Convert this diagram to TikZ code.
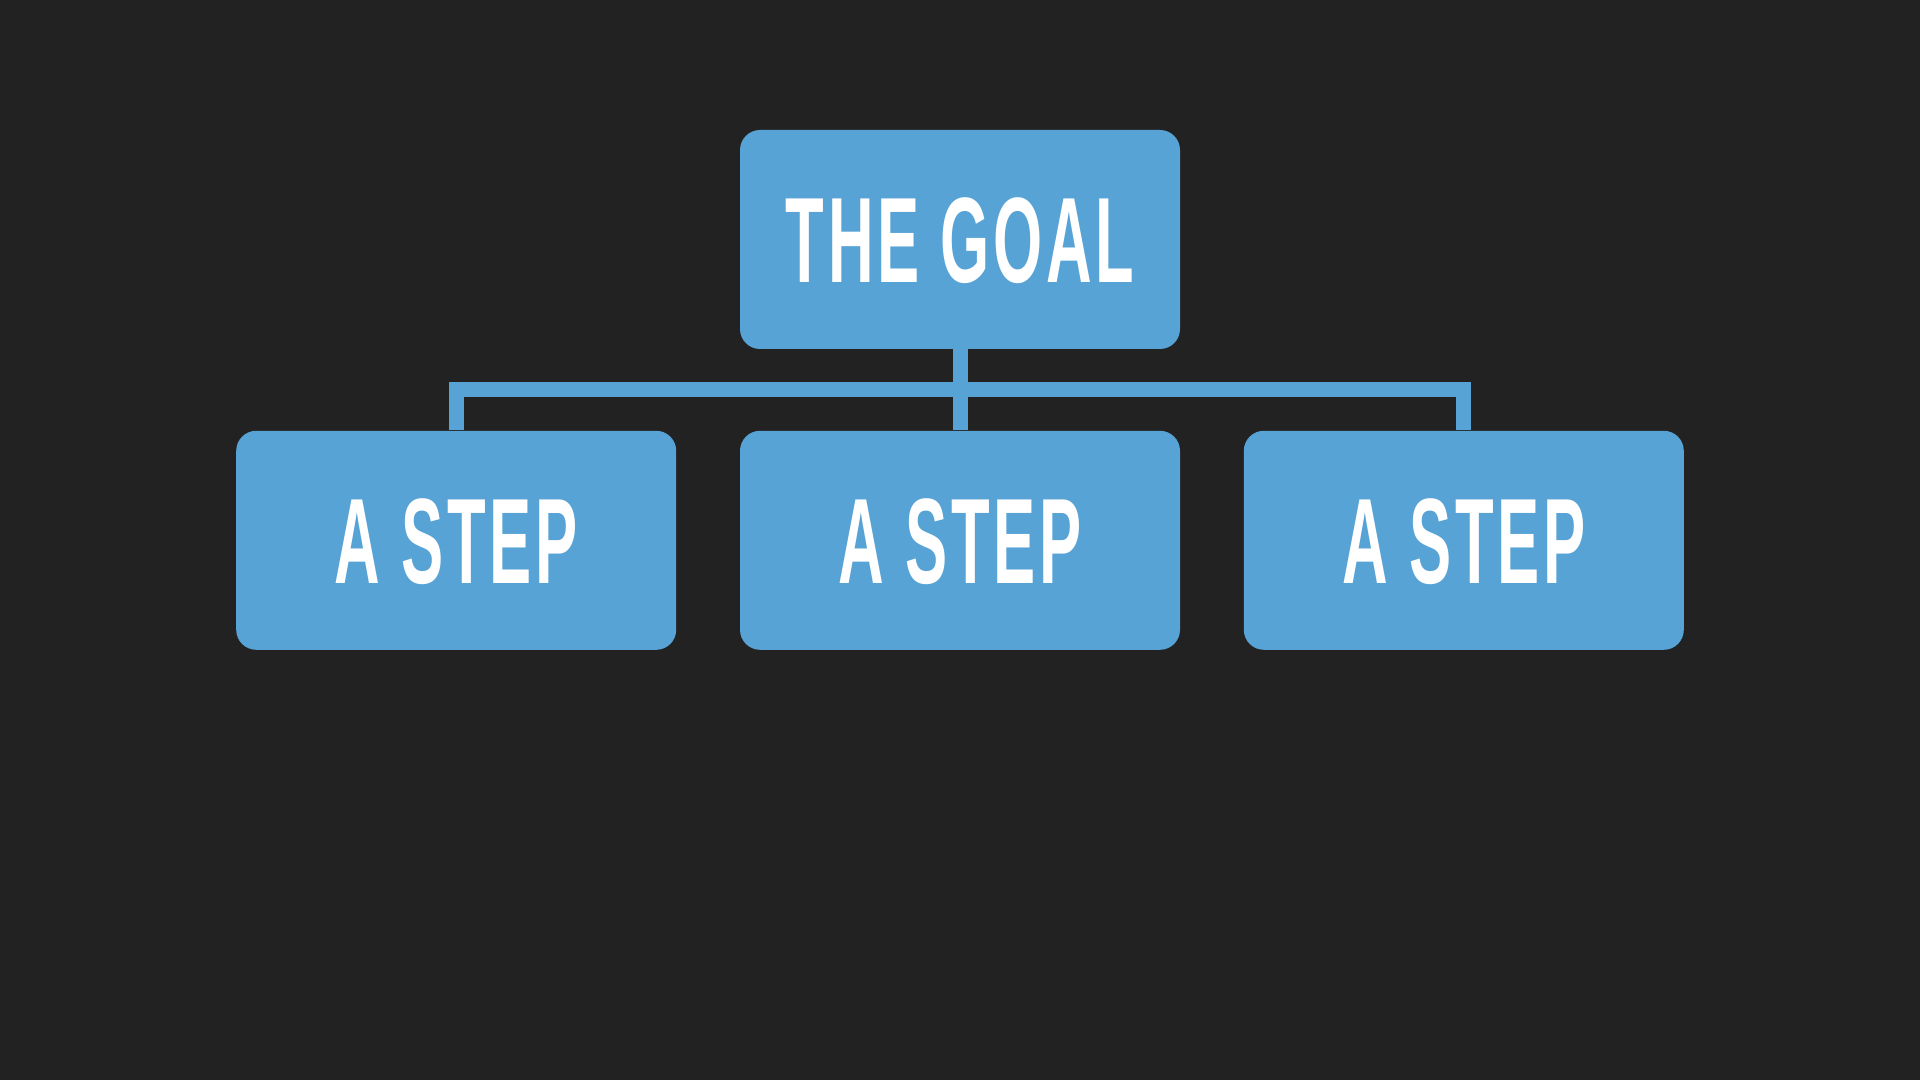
\documentclass[tikz,border=0pt]{standalone}
\usepackage{fontspec}
\usepackage{tikz}
\usetikzlibrary{positioning,calc}
\newfontfamily\dinfont{Liberation Sans}[FakeStretch=0.52, LetterSpace=3]
\definecolor{slatebg}{HTML}{222222}
\definecolor{goalblue}{HTML}{58A3D5}

\begin{document}
\begin{tikzpicture}[
  x=0.5pt, y=-0.5pt,
  node distance=40.5pt and 31.5pt,
  every node/.style={font=\dinfont\bfseries\fontsize{60.75}{60.75}\selectfont, text=white, align=center},
  tile/.style={fill=goalblue, rounded corners=10pt, minimum width=220pt, minimum height=109.5pt, text height=43.5pt, text depth=0pt, inner sep=0pt},
  link/.style={draw=goalblue, line width=7.5pt, line join=miter}
]
\fill[slatebg] (0,0) rectangle (1920,1080);
\useasboundingbox (0,0) rectangle (1920,1080);
\node[tile] (goal) at (960,239.5) {THE GOAL};
\node[tile, below=of goal] (stepmid) {A STEP};
\node[tile, left=of stepmid] (stepleft) {A STEP};
\node[tile, right=of stepmid] (stepright) {A STEP};
\coordinate (bar) at ($(goal.south)!0.5!(stepmid.north)$);
\draw[link] (goal.south) -- (stepmid.north);
\draw[link] (stepleft.north) |- (bar) -| (stepright.north);
\end{tikzpicture}
\end{document}
